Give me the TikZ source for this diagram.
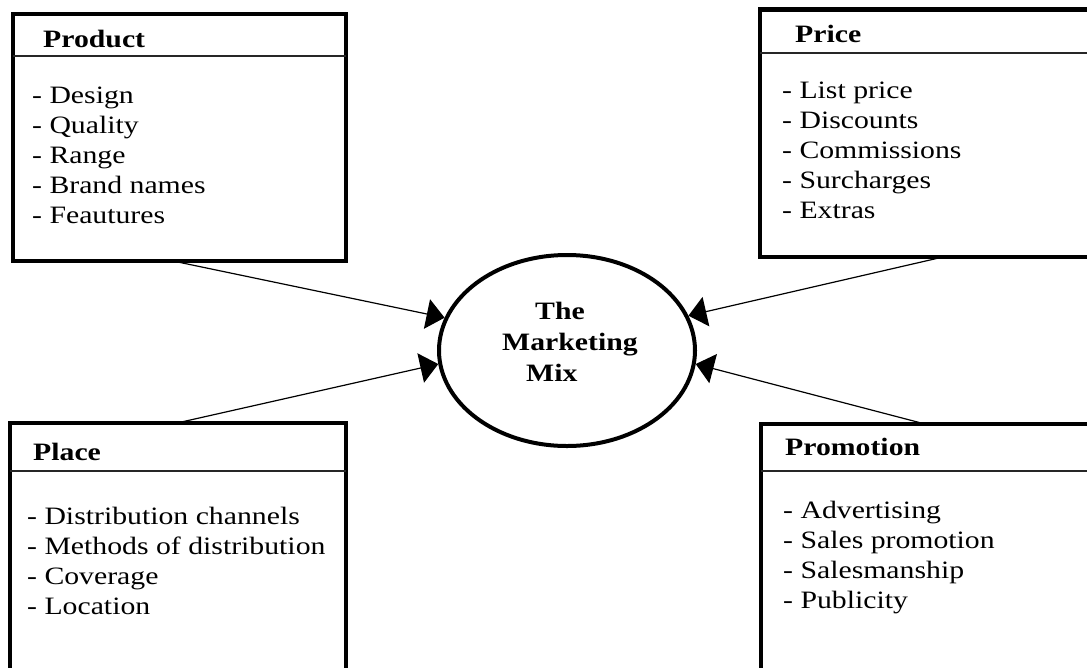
\documentclass[tikz,border=0pt]{standalone}
\usepackage{fontspec}
\setmainfont[FakeStretch=1.19]{Liberation Serif}
\usetikzlibrary{shapes.geometric,arrows.meta}
\begin{document}
\begin{tikzpicture}[x=1pt,y=-1pt,
  panel/.style={draw,rectangle,line width=4.5pt,inner sep=0pt,outer sep=0pt,anchor=north west},
  rule/.style={line width=1.3pt,draw=black!85},
  head/.style={anchor=base west,inner sep=0pt,font=\fontsize{25}{30}\selectfont\bfseries},
  items/.style={anchor=base west,inner sep=0pt,font=\fontsize{25}{30}\selectfont},
  hubtext/.style={anchor=base west,inner sep=0pt,font=\fontsize{25}{30}\selectfont\bfseries},
  hub/.style={ellipse,draw,line width=4pt,minimum width=256pt,minimum height=191pt,inner sep=0pt},
  feed/.style={line width=1.2pt,-{Triangle[length=18pt,width=30pt]}}]
\useasboundingbox[fill=white] (0,0) rectangle (1087,667);

% the four boxes
\node[panel,minimum width=333pt,minimum height=247pt] (product) at (13,14) {};
\node[panel,minimum width=340pt,minimum height=247.5pt] (price) at (760,9.5) {};
\node[panel,minimum width=336pt,minimum height=280pt] (place) at (10,423) {};
\node[panel,minimum width=340pt,minimum height=280pt] (promotion) at (761,424) {};

% title rules
\draw[rule] (product.west |- 0,56) -- (product.east |- 0,56);
\draw[rule] (price.west |- 0,53) -- (price.east |- 0,53);
\draw[rule] (place.west |- 0,471) -- (place.east |- 0,471);
\draw[rule] (promotion.west |- 0,471) -- (promotion.east |- 0,471);

% titles
\node[head] (producthead) at (43,47) {Product};
\node[head] (pricehead) at (795,42) {Price};
\node[head] (placehead) at (33,460) {Place};
\node[head] (promotionhead) at (785,455) {Promotion};

% lists, one line every 30pt
\foreach \t [count=\i] in {Design,Quality,Range,Brand names,Feautures}
  \node[items] (productitem\i) at (32,73+30*\i) {- \t};
\foreach \t [count=\i] in {List price,Discounts,Commissions,Surcharges,Extras}
  \node[items] (priceitem\i) at (782,68+30*\i) {- \t};
\foreach \t [count=\i] in {Distribution channels,Methods of distribution,Coverage,Location}
  \node[items] (placeitem\i) at (27,494+30*\i) {- \t};
\foreach \t [count=\i] in {Advertising,Sales promotion,Salesmanship,Publicity}
  \node[items] (promotionitem\i) at (783,488+30*\i) {- \t};

% centre
\node[hub] (hub) at (567,350.5) {};
\node[hubtext] (hubthe) at (535,319) {The};
\node[hubtext] (hubmarketing) at (502,350) {Marketing};
\node[hubtext] (hubmix) at (526,381) {Mix};

% connectors, each starting on the middle of its box's border line
\draw[feed] (product.south -| 173,0) -- (hub.165.5);
\draw[feed] (price.south -| 943,0) -- (hub.16.1);
\draw[feed] (place.north -| 177,0) -- (hub.186.7);
\draw[feed] (promotion.north -| 925,0) -- (hub.354.3);
\end{tikzpicture}
\end{document}
